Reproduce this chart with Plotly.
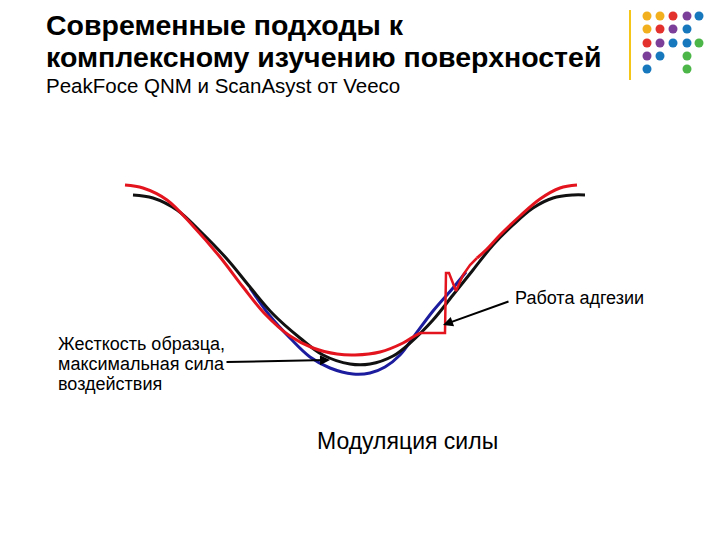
import plotly.graph_objects as go

# --- curve data (schematic force-modulation curves) ---
black_x = [133, 153, 177, 200, 227, 250, 273, 300, 323, 350, 370, 393, 410, 433, 453, 473, 493, 513, 533, 553, 573, 585]
black_y = [195, 198, 210, 231, 259, 287, 314, 338, 355, 364, 364, 356, 343, 320, 295, 270, 245, 225, 208, 198, 195, 195]

blue_x = [250, 270, 290, 310, 330, 353, 370, 385, 400, 415, 433, 453, 466]
blue_y = [288, 316, 338, 357, 368, 374, 373, 367, 355, 335, 311, 288, 272]

red_left_x = [125, 143, 167, 193, 220, 243, 265, 290, 313, 337, 355, 380, 403, 413, 420]
red_left_y = [185, 188, 200, 226, 257, 287, 314, 336, 348, 354, 355, 352, 343, 337, 333]

red_step_x = [420, 445, 446, 449, 456, 463, 470, 477]
red_step_y = [333, 333, 273, 273, 291, 275, 265, 258]

red_right_x = [477, 487, 500, 520, 540, 560, 577]
red_right_y = [258, 249, 235, 216, 199, 188, 185]

# --- decorative dot grid (top right) ---
dot_x = [647, 660, 673, 687, 699, 647, 660, 673, 687, 647, 660, 673, 687, 699, 647, 660, 687, 647, 687]
dot_y = [16, 16, 16, 16, 16, 29, 29, 29, 29, 43, 43, 43, 43, 43, 56, 56, 56, 69, 69]
dot_c = ["#F2B01E", "#F2B01E", "#E3312D", "#7B3F99", "#1878BE",
         "#F2B01E", "#E3312D", "#7B3F99", "#1878BE",
         "#E3312D", "#7B3F99", "#1878BE", "#1878BE", "#4CB648",
         "#7B3F99", "#1878BE", "#4CB648",
         "#1878BE", "#4CB648"]

title_lines = ["Современные подходы к", "комплексному изучению поверхностей"]
subtitle = "PeakFoce QNM и ScanAsyst от Veeco"
label_adh = "Работа адгезии"
label_stiff = ["Жесткость образца,", "максимальная сила", "воздействия"]
label_mod = "Модуляция силы"

TITLE_FONT = "Liberation Sans, Arial"
LABEL_FONT = "Liberation Sans, Arial"

fig = go.Figure()

fig.add_trace(go.Scatter(x=blue_x, y=blue_y, mode="lines",
                         line=dict(color="#1C1C9E", width=3, shape="spline", smoothing=1.0),
                         hoverinfo="skip"))
fig.add_trace(go.Scatter(x=black_x, y=black_y, mode="lines",
                         line=dict(color="#111111", width=3, shape="spline", smoothing=1.0),
                         hoverinfo="skip"))
fig.add_trace(go.Scatter(x=red_left_x, y=red_left_y, mode="lines",
                         line=dict(color="#E3141E", width=3, shape="spline", smoothing=1.0),
                         hoverinfo="skip"))
fig.add_trace(go.Scatter(x=red_step_x, y=red_step_y, mode="lines",
                         line=dict(color="#E3141E", width=2.5, shape="linear"),
                         hoverinfo="skip"))
fig.add_trace(go.Scatter(x=red_right_x, y=red_right_y, mode="lines",
                         line=dict(color="#E3141E", width=3, shape="spline", smoothing=1.0),
                         hoverinfo="skip"))

fig.add_trace(go.Scatter(x=dot_x, y=dot_y, mode="markers",
                         marker=dict(color=dot_c, size=9, line=dict(width=0)),
                         hoverinfo="skip"))

fig.add_shape(type="line", x0=630, x1=630, y0=10, y1=80, xref="x", yref="y",
              line=dict(color="#F5C518", width=2))

# Title text
fig.add_annotation(x=44, y=24.5, xref="x", yref="y", text="<b>" + title_lines[0] + "</b>",
                   showarrow=False, xanchor="left", yanchor="middle",
                   font=dict(family=TITLE_FONT, size=28.5, color="#000"))
fig.add_annotation(x=44, y=56.5, xref="x", yref="y", text="<b>" + title_lines[1] + "</b>",
                   showarrow=False, xanchor="left", yanchor="middle",
                   font=dict(family=TITLE_FONT, size=28.5, color="#000"))
fig.add_annotation(x=44, y=85, xref="x", yref="y", text=subtitle,
                   showarrow=False, xanchor="left", yanchor="middle",
                   font=dict(family=TITLE_FONT, size=20.5, color="#000"))

# Arrows
fig.add_annotation(x=443, y=325, ax=510, ay=301, xref="x", yref="y", axref="x", ayref="y",
                   text="", showarrow=True, arrowhead=2, arrowsize=1, arrowwidth=2, arrowcolor="#000")
fig.add_annotation(x=330, y=360, ax=225, ay=362, xref="x", yref="y", axref="x", ayref="y",
                   text="", showarrow=True, arrowhead=2, arrowsize=1, arrowwidth=2, arrowcolor="#000")

# Labels
fig.add_annotation(x=513, y=298, xref="x", yref="y", text=label_adh, showarrow=False,
                   xanchor="left", yanchor="middle",
                   font=dict(family=LABEL_FONT, size=18, color="#000"))
for i, line in enumerate(label_stiff):
    fig.add_annotation(x=56, y=344 + 20 * i, xref="x", yref="y", text=line, showarrow=False,
                       xanchor="left", yanchor="middle",
                       font=dict(family=LABEL_FONT, size=18, color="#000"))
fig.add_annotation(x=407, y=441, xref="x", yref="y", text=label_mod, showarrow=False,
                   xanchor="center", yanchor="middle",
                   font=dict(family=LABEL_FONT, size=23, color="#000"))

# the page body adds an 8px margin, so the figure covers page pixels 8..720 / 8..540
fig.update_layout(
    width=712, height=532,
    margin=dict(l=0, r=0, t=0, b=0),
    paper_bgcolor="white", plot_bgcolor="white",
    showlegend=False,
    xaxis=dict(range=[8, 720], visible=False, fixedrange=True),
    yaxis=dict(range=[540, 8], visible=False, fixedrange=True),
)

fig.write_html("out.html")
